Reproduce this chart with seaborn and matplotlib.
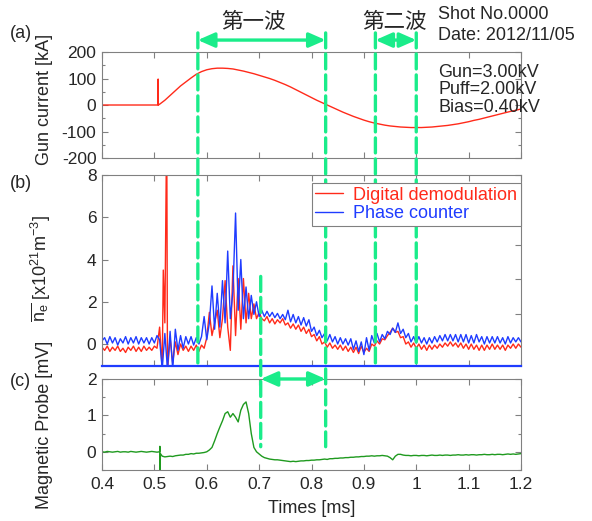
import numpy as np
import pandas as pd
import matplotlib
matplotlib.use('Agg')
import matplotlib.pyplot as plt
import seaborn as sns
from matplotlib.patches import ConnectionPatch
from matplotlib.ticker import MultipleLocator

# ---- data ----
# (a) gun current [kA]
gun_pre_t = [0.400, 0.5070, 0.5072, 0.5075]
gun_pre = [0, 0, 98, 0]
gun_t = np.round(np.arange(0.51, 1.2001, 0.01), 3)
gun_current = [3, 18, 36, 54, 72, 87, 102, 116, 126, 133,
               137, 139, 139, 138, 136, 132, 128, 123, 118, 112,
               106, 100, 93, 85, 77, 68, 58, 48, 38, 28,
               18, 9, 0, -9, -18, -27, -35, -43, -50, -57,
               -63, -68, -72, -76, -79, -81, -83, -84, -85, -85,
               -85, -84, -83, -81, -79, -77, -74, -71, -67, -63,
               -58, -54, -49, -44, -39, -34, -29, -24, -20, -15]

# (b) line density, sampled every 5 us
dens_t = np.round(0.4 + 0.005 * np.arange(161), 4)
phase_counter = [0.15, 0.30, 0.00, 0.35, 0.05, 0.30, -0.05, 0.25, 0.05, 0.35,
                 0.00, 0.30, 0.05, 0.35, 0.00, 0.30, 0.05, 0.30, 0.00, 0.30,
                 0.05, 0.40, 0.20, -1.20, 0.50, -1.20, 0.60, -1.20, 0.70, -0.30,
                 0.40, -0.20, 0.35, 0.00, 0.35, -0.05, 0.30, 0.00, 0.35, 1.30,
                 0.20, 1.00, 2.75, 0.70, 2.40, 0.80, 3.00, 1.00, 4.40, 1.20,
                 2.50, 6.20, 1.60, 4.00, 1.20, 2.70, 1.20, 2.30, 1.40, 2.00,
                 1.30, 1.60, 1.30, 1.55, 1.30, 1.50, 1.25, 1.45, 1.20, 1.40,
                 1.15, 1.60, 1.05, 1.40, 1.00, 1.30, 0.90, 1.25, 0.85, 1.15,
                 0.60, 0.80, 0.40, 0.65, 0.30, 0.50, 0.15, 0.45, 0.10, 0.35,
                 0.00, 0.30, 0.00, 0.25, -0.05, 0.25, -0.25, 0.15, -0.35, 0.10,
                 -0.50, 0.30, -0.30, 0.40, 0.05, 0.50, 0.10, 0.45, 0.25, 0.60,
                 0.45, 0.75, 0.55, 1.00, 0.50, 0.70, 0.30, 0.50, 0.10, 0.35,
                 0.05, 0.35, 0.05, 0.30, 0.00, 0.30, 0.05, 0.35, 0.10, 0.40,
                 0.15, 0.45, 0.15, 0.45, 0.15, 0.45, 0.10, 0.45, 0.10, 0.45,
                 0.05, 0.40, 0.05, 0.45, 0.10, 0.35, 0.00, 0.35, 0.05, 0.35,
                 0.05, 0.35, 0.05, 0.30, 0.00, 0.35, 0.05, 0.30, 0.10, 0.30,
                 0.10]
digital_demod = [-0.15, -0.30, -0.10, -0.35, -0.15, -0.30, -0.10, -0.35, -0.20, -0.40,
                 -0.15, -0.30, -0.10, -0.35, -0.15, -0.35, -0.10, -0.30, -0.15, -0.30,
                 -0.10, -0.20, 0.80, -1.20, 1.00, -1.30, 0.30, -0.90, 0.10, -0.50,
                 0.00, -0.30, -0.10, -0.35, -0.10, -0.30, -0.05, -0.35, -0.05, -0.20,
                 0.30, 1.50, 0.40, 1.00, 1.60, 0.30, 1.20, 3.00, 0.80, -0.30,
                 3.70, 0.40, 3.10, 0.70, 3.10, 1.00, 2.40, 1.20, 1.90, 1.20,
                 1.50, 1.20, 1.10, 1.30, 1.00, 1.20, 0.95, 1.15, 1.00, 1.20,
                 0.90, 1.00, 0.75, 0.95, 0.70, 0.90, 0.60, 0.80, 0.50, 0.70,
                 0.35, 0.45, 0.15, 0.35, 0.00, 0.10, -0.15, 0.05, -0.20, -0.05,
                 -0.25, -0.05, -0.30, -0.10, -0.35, -0.15, -0.40, -0.15, -0.45, -0.10,
                 -0.40, -0.20, -0.35, 0.00, -0.10, 0.15, 0.00, 0.25, 0.20, 0.40,
                 0.55, 0.75, 0.55, 0.60, 0.30, 0.35, 0.00, 0.10, -0.15, 0.05,
                 -0.20, 0.00, -0.25, -0.05, -0.30, -0.05, -0.25, -0.05, -0.20, 0.00,
                 -0.15, 0.05, -0.10, 0.10, -0.10, 0.05, -0.15, 0.05, -0.20, 0.00,
                 -0.25, 0.00, -0.25, -0.05, -0.30, -0.05, -0.30, -0.05, -0.25, 0.00,
                 -0.25, -0.05, -0.25, -0.05, -0.30, -0.05, -0.20, 0.00, -0.20, 0.00,
                 -0.15]
demod_spike_t = [0.517, 0.5228, 0.5238]
demod_spike = [3.5, 8.6, 8.6]

# (c) magnetic probe [mV]
probe = [0.00, -0.01, 0.01, 0.00, -0.01, 0.00, 0.01, -0.01, 0.00, 0.00,
         -0.01, 0.01, 0.00, -0.01, 0.00, 0.01, 0.00, -0.01, 0.00, 0.01,
         0.00, -0.01, 0.00, -0.12, -0.14, -0.13, -0.12, -0.13, -0.11, -0.10,
         -0.09, -0.09, -0.07, -0.07, -0.05, -0.06, -0.04, -0.04, -0.03, -0.02,
         0.00, 0.05, 0.12, 0.30, 0.50, 0.68, 0.85, 1.05, 1.10, 0.95,
         1.05, 0.95, 0.82, 1.14, 1.30, 1.37, 1.05, 0.50, 0.12, 0.00,
         -0.06, -0.12, -0.16, -0.18, -0.20, -0.21, -0.22, -0.22, -0.23, -0.24,
         -0.25, -0.26, -0.27, -0.26, -0.27, -0.26, -0.25, -0.25, -0.24, -0.24,
         -0.23, -0.23, -0.22, -0.22, -0.21, -0.20, -0.21, -0.19, -0.19, -0.18,
         -0.18, -0.17, -0.17, -0.16, -0.16, -0.15, -0.15, -0.14, -0.14, -0.13,
         -0.13, -0.12, -0.12, -0.11, -0.12, -0.11, -0.11, -0.10, -0.11, -0.12,
         -0.16, -0.22, -0.12, -0.07, -0.07, -0.09, -0.10, -0.10, -0.11, -0.10,
         -0.10, -0.11, -0.10, -0.10, -0.11, -0.10, -0.09, -0.10, -0.10, -0.09,
         -0.10, -0.09, -0.09, -0.10, -0.09, -0.09, -0.08, -0.09, -0.09, -0.08,
         -0.09, -0.08, -0.08, -0.09, -0.08, -0.08, -0.07, -0.08, -0.08, -0.07,
         -0.08, -0.07, -0.07, -0.08, -0.07, -0.06, -0.07, -0.06, -0.07, -0.06,
         -0.05]
probe_spike_t = [0.5105, 0.5110, 0.5115]
probe_spike = [0.15, -0.60, -0.05]

# time windows marked on the chart [ms]
first_wave = (0.583, 0.827)
second_wave = (0.922, 1.0)
probe_window = (0.703, 0.827)

x_ticks = [0.4, 0.5, 0.6, 0.7, 0.8, 0.9, 1.0, 1.1, 1.2]
x_tick_labels = ['0.4', '0.5', '0.6', '0.7', '0.8', '0.9', '1', '1.1', '1.2']

# ---- style ----
sns.set_style('ticks')
plt.rcParams['font.family'] = ['Liberation Sans', 'DejaVu Sans']
plt.rcParams['axes.unicode_minus'] = False
plt.rcParams['mathtext.fontset'] = 'custom'
plt.rcParams['mathtext.rm'] = 'Liberation Sans'
plt.rcParams['mathtext.it'] = 'Liberation Sans:italic'

RED = '#ff2a1a'
BLUE = '#1f3cff'
GREEN = '#1f9a1f'
MARK = '#1aec8a'
SPINE = '#808080'
FS = 13

fig = plt.figure(figsize=(5.92, 5.21), dpi=100)
ax_a = fig.add_axes([0.1723, 0.6967, 0.7078, 0.2035])
ax_b = fig.add_axes([0.1723, 0.2975, 0.7078, 0.3666])
ax_c = fig.add_axes([0.1723, 0.0979, 0.7078, 0.1747])

gun_df = pd.DataFrame({'t': list(gun_pre_t) + list(gun_t),
                       'I': list(gun_pre) + list(gun_current)})
sns.lineplot(data=gun_df, x='t', y='I', ax=ax_a, color=RED, lw=1.0,
             estimator=None, sort=False)

red_df = pd.DataFrame({'t': list(dens_t) + demod_spike_t,
                       'n': digital_demod + demod_spike}).sort_values('t')
blue_df = pd.DataFrame({'t': dens_t, 'n': phase_counter})
sns.lineplot(data=red_df, x='t', y='n', ax=ax_b, color=RED, lw=1.0,
             estimator=None, sort=False, label='Digital demodulation')
sns.lineplot(data=blue_df, x='t', y='n', ax=ax_b, color=BLUE, lw=1.0,
             estimator=None, sort=False, label='Phase counter')

probe_df = pd.DataFrame({'t': list(dens_t) + probe_spike_t,
                         'v': probe + probe_spike}).sort_values('t')
sns.lineplot(data=probe_df, x='t', y='v', ax=ax_c, color=GREEN, lw=1.0,
             estimator=None, sort=False)

for ax in (ax_a, ax_b, ax_c):
    ax.set_xlim(0.4, 1.2)
    ax.set_xticks(x_ticks)
    ax.set_xlabel('')
    ax.tick_params(direction='in', top=True, right=True, length=4, width=0.8,
                   color=SPINE, labelsize=12.5, pad=4)
    ax.tick_params(which='minor', direction='in', left=True, right=True,
                   length=2, width=0.8, color=SPINE)
    for s in ax.spines.values():
        s.set_color(SPINE)
        s.set_linewidth(0.8)
        s.set_visible(True)

ax_a.set_ylim(-200, 200)
ax_a.set_yticks([-200, -100, 0, 100, 200])
ax_a.yaxis.set_minor_locator(MultipleLocator(50))
ax_a.tick_params(labelbottom=False)
ax_a.set_ylabel('Gun current [kA]', fontsize=FS)
ax_a.yaxis.set_label_coords(-0.117, 0.55)

ax_b.set_ylim(-1.04, 8)
ax_b.set_yticks([0, 2, 4, 6, 8])
ax_b.tick_params(labelbottom=False, right=False)
ax_b.spines['bottom'].set_color(BLUE)
ax_b.spines['bottom'].set_linewidth(1.6)
ax_b.set_ylabel(r'$\overline{\mathrm{n}_\mathrm{e}}$ [x10$^{21}$m$^{-3}$]', fontsize=FS)
ax_b.yaxis.set_label_coords(-0.117, 0.51)
ax_b2 = ax_b.twinx()
ax_b2.set_ylim(-0.5, 5.01)
ax_b2.set_yticks([1, 2, 3, 4, 5])
ax_b2.tick_params(direction='in', length=4, width=0.8, color=SPINE, labelright=False)
for s in ax_b2.spines.values():
    s.set_visible(False)

# legend drawn at figure level so it sits above the dashed markers
handles, labels = ax_b.get_legend_handles_labels()
ax_b.get_legend().remove()
leg = fig.legend(handles, labels, loc='upper right',
                 bbox_to_anchor=(1.0, 1 - 8 / 191), bbox_transform=ax_b.transAxes,
                 borderaxespad=0, frameon=True, fancybox=False, fontsize=FS,
                 handlelength=1.5, handletextpad=0.6, borderpad=0.2,
                 labelspacing=0.1, labelcolor='linecolor', framealpha=1)
leg.get_frame().set_edgecolor(SPINE)
leg.get_frame().set_linewidth(0.8)
leg.set_zorder(10)

ax_c.set_ylim(-0.5, 2)
ax_c.set_yticks([0, 1, 2])
ax_c.yaxis.set_minor_locator(MultipleLocator(0.5))
ax_c.set_xticklabels(x_tick_labels)
ax_c.tick_params(axis='x', pad=5)
ax_c.set_ylabel('Magnetic Probe [mV]', fontsize=FS)
ax_c.yaxis.set_label_coords(-0.117, 0.5)
ax_c.set_xlabel('Times [ms]', fontsize=FS)
ax_c.xaxis.set_label_coords(0.5, -0.33)

# ---- dashed window markers ----
def vline(t, axA, yA, axB, yB):
    con = ConnectionPatch(xyA=(t, yA), coordsA=axA.transData,
                          xyB=(t, yB), coordsB=axB.transData,
                          color=MARK, lw=2.4, linestyle=(0, (4.5, 1.8)),
                          clip_on=False, zorder=5)
    fig.add_artist(con)

top_kA = 272
vline(first_wave[0], ax_a, top_kA, ax_b, -1.04)
vline(first_wave[1], ax_a, top_kA, ax_c, 0.14)
vline(second_wave[0], ax_a, top_kA, ax_b, -1.04)
vline(second_wave[1], ax_a, top_kA, ax_b, -1.04)
vline(probe_window[0], ax_b, 3.2, ax_c, 0.14)

arrow_style = dict(arrowstyle='<|-|>,head_length=0.5,head_width=0.22',
                   color=MARK, lw=2.4, mutation_scale=20, shrinkA=0, shrinkB=0)
ax_a.annotate('', xy=(first_wave[0], 245), xytext=(first_wave[1], 245),
              arrowprops=arrow_style, annotation_clip=False)
ax_a.annotate('', xy=(second_wave[0], 245), xytext=(second_wave[1], 245),
              arrowprops=arrow_style, annotation_clip=False)
ax_c.annotate('', xy=(probe_window[0], 2.0), xytext=(probe_window[1], 2.0),
              arrowprops=arrow_style, annotation_clip=False)

cjk = ['Noto Sans CJK JP', 'DejaVu Sans']
ax_a.text(0.69, 313, '第一波', family=cjk, fontsize=15.5, ha='center', va='center')
ax_a.text(0.959, 313, '第二波', family=cjk, fontsize=15.5, ha='center', va='center')

# ---- annotations ----
ax_a.text(0.802, 1.349, 'Shot No.0000', transform=ax_a.transAxes, fontsize=FS, va='center')
ax_a.text(0.802, 1.160, 'Date: 2012/11/05', transform=ax_a.transAxes, fontsize=FS, va='center')
ax_a.text(0.802, 0.811, 'Gun=3.00kV', transform=ax_a.transAxes, fontsize=FS, va='center')
ax_a.text(0.802, 0.646, 'Puff=2.00kV', transform=ax_a.transAxes, fontsize=FS, va='center')
ax_a.text(0.802, 0.481, 'Bias=0.40kV', transform=ax_a.transAxes, fontsize=FS, va='center')

fig.text(10 / 592, 1 - 33 / 521, '(a)', fontsize=FS, va='center')
fig.text(10 / 592, 1 - 183 / 521, '(b)', fontsize=FS, va='center')
fig.text(10 / 592, 1 - 382 / 521, '(c)', fontsize=FS, va='center')

fig.savefig('out.png', dpi=100)
